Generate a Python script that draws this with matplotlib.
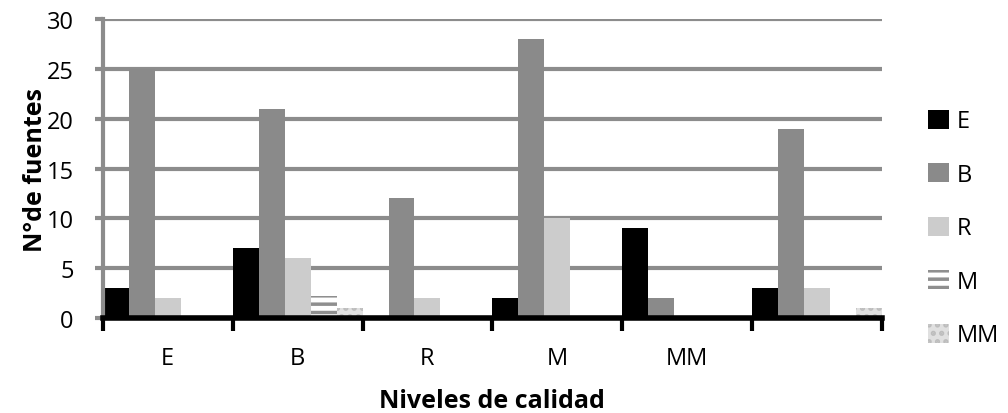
import numpy as np
import matplotlib.pyplot as plt

categorias = ['E', 'B', 'R', 'M', 'MM', '']
series = ['E', 'B', 'R', 'M', 'MM']
val_E = [3, 7, 0, 2, 9, 3]
val_B = [25, 21, 12, 28, 2, 19]
val_R = [2, 6, 2, 10, 0, 3]
val_M = [0, 2.2, 0, 0, 0, 0]
val_MM = [0, 1, 0, 0, 0, 1]

plt.rcParams['font.family'] = ['Open Sans', 'DejaVu Sans']
plt.rcParams['hatch.linewidth'] = 2.5

fig = plt.figure(figsize=(10.08, 4.14), dpi=100)
ax = fig.add_axes([0.102, 0.229, 0.773, 0.723])

x = np.arange(len(categorias))
w = 0.2
estilos = [
    dict(color='black'),
    dict(color='#8a8a8a'),
    dict(color='#cccccc'),
    dict(facecolor='white', edgecolor='#8f8f8f', hatch='--', linewidth=0),
    dict(facecolor='#e0e0e0', edgecolor='#bdbdbd', hatch='..', linewidth=0),
]
datos = [val_E, val_B, val_R, val_M, val_MM]
for j, (nombre, vals, st) in enumerate(zip(series, datos, estilos)):
    ax.bar(x + 0.1 + w * j, vals, w, label=nombre, zorder=2, **st)

ax.set_xlim(0, 6)
ax.set_ylim(0, 30)
ax.set_yticks(range(0, 31, 5))
ax.yaxis.grid(True, color='#8c8c8c', linewidth=3, zorder=0)
ax.set_axisbelow(True)

for s in ['top', 'right']:
    ax.spines[s].set_visible(False)
ax.spines['left'].set_color('#8c8c8c')
ax.spines['left'].set_linewidth(3)
ax.spines['bottom'].set_color('black')
ax.spines['bottom'].set_linewidth(4)
ax.spines['bottom'].set_zorder(3)

ax.set_xticks(x + 0.5)
ax.set_xticklabels(categorias)
ax.set_xticks(np.arange(0, 7), minor=True)
ax.tick_params(axis='x', which='major', length=0, labelsize=17, pad=20)
ax.tick_params(axis='x', which='minor', length=9, width=3, color='black', direction='out')
ax.tick_params(axis='y', length=6, width=3, color='#8c8c8c', labelsize=17, pad=15)

ax.set_xlabel('Niveles de calidad', fontsize=18, fontweight='bold', labelpad=13)
ax.set_ylabel('N°de fuentes', fontsize=18, fontweight='bold', labelpad=-1)

ax.legend(loc='center left', bbox_to_anchor=(1.059, 0.30), frameon=False,
          fontsize=17, handlelength=0.9, handleheight=0.85, labelspacing=1.25,
          handletextpad=0.3, borderpad=0, borderaxespad=0)

fig.savefig('out.png', dpi=100)
